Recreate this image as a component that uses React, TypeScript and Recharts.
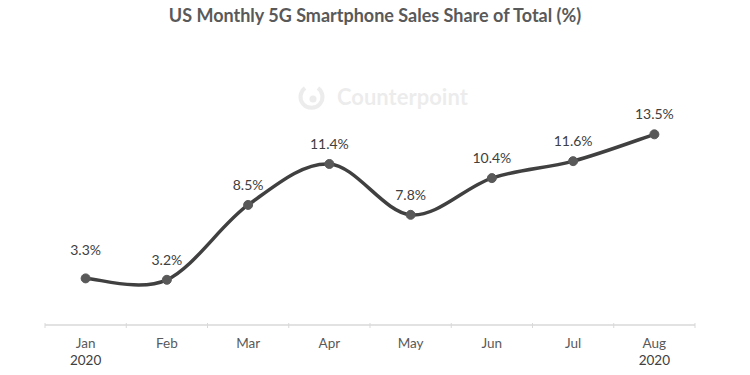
import { LabelList, Line, LineChart, XAxis, YAxis } from "recharts";

const months = ["Jan", "Feb", "Mar", "Apr", "May", "Jun", "Jul", "Aug"];
const years = ["2020", "", "", "", "", "", "", "2020"];
const share = [3.3, 3.2, 8.5, 11.4, 7.8, 10.4, 11.6, 13.5];

const data = months.map((m, i) => ({ month: m, year: years[i], share: share[i] }));

const FONT = "Lato, 'Open Sans', sans-serif";

// Excel-style smoothing (Catmull-Rom through the points)
function smoothCurve(ctx: any) {
  let pts: number[][] = [];
  return {
    areaStart() {},
    areaEnd() {},
    lineStart() { pts = []; },
    point(x: number, y: number) { pts.push([x, y]); },
    lineEnd() {
      if (!pts.length) return;
      ctx.moveTo(pts[0][0], pts[0][1]);
      for (let i = 0; i < pts.length - 1; i++) {
        const p0 = pts[i - 1] || pts[i], p1 = pts[i], p2 = pts[i + 1], p3 = pts[i + 2] || pts[i + 1];
        ctx.bezierCurveTo(
          p1[0] + (p2[0] - p0[0]) / 6, p1[1] + (p2[1] - p0[1]) / 6,
          p2[0] - (p3[0] - p1[0]) / 6, p2[1] - (p3[1] - p1[1]) / 6,
          p2[0], p2[1]);
      }
    },
  };
}

function MonthTick(props: any) {
  const { x, y, payload } = props;
  const half = payload?.offset ?? 0;
  const i = payload?.index ?? 0;
  const last = i === months.length - 1;
  return <g>
    <line x1={x - half} x2={x - half} y1={y - 10} y2={y - 5} stroke="#d9d9d9" />
    {last && <line x1={x + half} x2={x + half} y1={y - 10} y2={y - 5} stroke="#d9d9d9" />}
    <text x={x} y={y + 15} textAnchor="middle" fill="#595959" fontSize={13.5} fontFamily={FONT}>{payload.value}</text>
    {years[i] && <text x={x} y={y + 32} textAnchor="middle" fill="#404040" fontSize={13.5} fontFamily={FONT}>{years[i]}</text>}
  </g>;
}

function ValueLabel(props: any) {
  const { x, y, value, index } = props;
  const lift = index === 0 ? 28 : 20;
  return <text x={x} y={y - lift + 5} textAnchor="middle" fill="#404040" fontSize={14} fontFamily={FONT}>{value.toFixed(1)}%</text>;
}

function Watermark() {
  return <g opacity={0.07}>
    <path d="M 318 88 A 11 11 0 1 1 305 88" fill="none" stroke="#000" strokeWidth={4} />
    <circle cx={313} cy={99} r={3.5} fill="#000" />
    <text x={337} y={105} fill="#000" fontSize={22} fontWeight={700} fontFamily={FONT}>Counterpoint</text>
  </g>;
}

export default function App() {
  return <div style={{ position: "absolute", left: 0, top: 0, width: 750, height: 375, background: "#fff" }}>
    <div style={{ position: "absolute", top: 4, width: 750, textAlign: "center", fontFamily: FONT, fontWeight: 700, fontSize: 18, color: "#595959" }}>
      US Monthly 5G Smartphone Sales Share of Total (%)
    </div>
    <svg width={750} height={375} style={{ position: "absolute", left: 0, top: 0 }}><Watermark /></svg>
    <div style={{ position: "absolute", left: 0, top: 0 }}>
      <LineChart width={750} height={375} data={data} margin={{ top: 99, right: 55, left: 45, bottom: 0 }}>
        <XAxis dataKey="month" scale="band" height={50} tickLine={false} axisLine={{ stroke: "#d9d9d9", strokeWidth: 1.5 }} tick={<MonthTick />} interval={0} />
        <YAxis hide domain={[0, 16]} />
        <Line type={smoothCurve as any} dataKey="share" stroke="#404040" strokeWidth={3.5} isAnimationActive={false}
          dot={{ r: 4.5, fill: "#595959", stroke: "#595959", strokeWidth: 1 }} activeDot={false}>
          <LabelList dataKey="share" content={<ValueLabel />} />
        </Line>
      </LineChart>
    </div>
  </div>;
}
